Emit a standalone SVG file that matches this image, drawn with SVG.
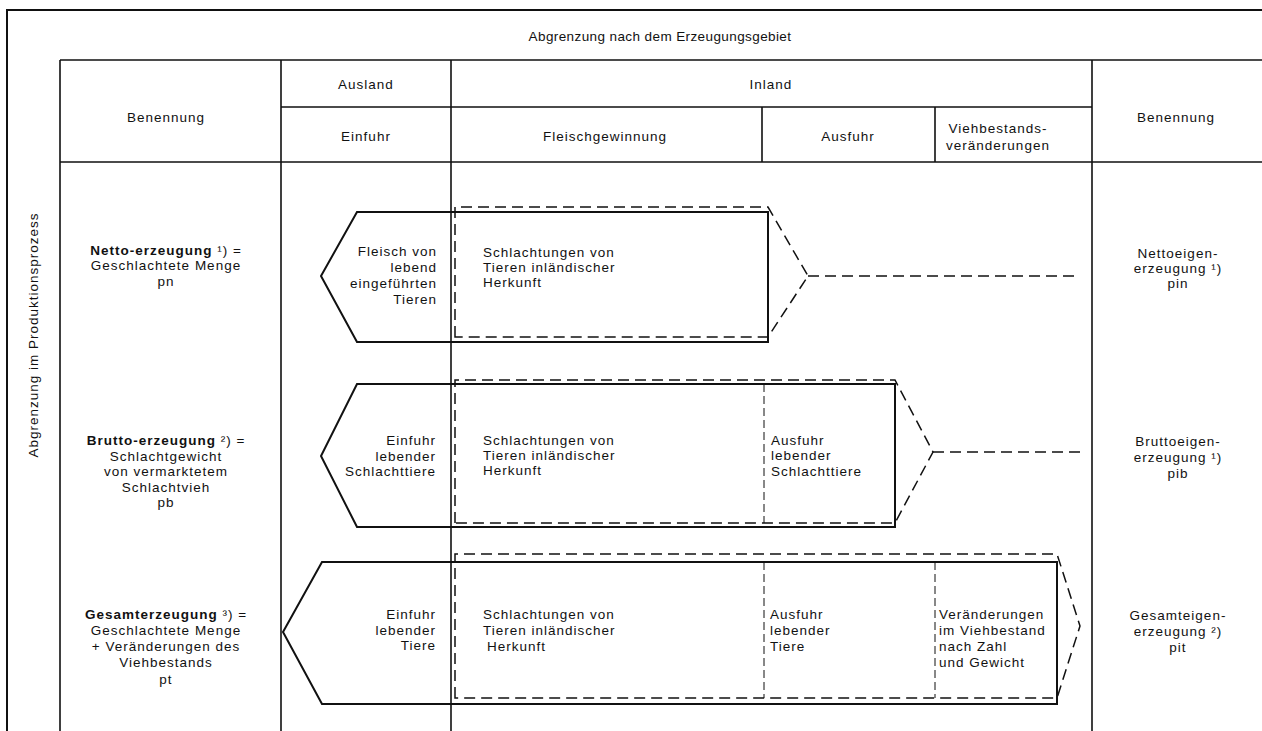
<svg xmlns="http://www.w3.org/2000/svg" width="1262" height="731" viewBox="0 0 1262 731">
<style>
text{font-family:"Liberation Sans","DejaVu Sans",sans-serif;font-size:13.5px;letter-spacing:1px;fill:#111}
.c{text-anchor:middle}
.r{text-anchor:end}
.b{font-weight:bold}
.frame{stroke:#111;stroke-width:2;fill:none}
.grid{stroke:#111;stroke-width:1.6;fill:none}
.solid{stroke:#111;stroke-width:2;fill:none;stroke-linejoin:miter}
.dash{stroke:#111;stroke-width:1.5;fill:none;stroke-dasharray:11 6}
.div{stroke:#111;stroke-width:1;fill:none;stroke-dasharray:8 4}
</style>
<rect width="1262" height="731" fill="#fff"/>
<g id="frame">
<path class="frame" d="M7,731 V10 H1262"/>
<text class="c" x="660" y="41" style="letter-spacing:0.4px">Abgrenzung nach dem Erzeugungsgebiet</text>
<text class="c" transform="translate(38,335) rotate(-90)">Abgrenzung im Produktionsprozess</text>
</g>
<g id="table">
<path class="grid" d="M60,60 H1262 M281,107 H1092 M60,162 H1262 M60,60 V731 M281,60 V731 M451,60 V731 M1092,60 V731 M762,107 V162 M935,107 V162"/>
<text class="c" x="166" y="122">Benennung</text>
<text class="c" x="366" y="89">Ausland</text>
<text class="c" x="771" y="89">Inland</text>
<text class="c" x="366" y="141">Einfuhr</text>
<text class="c" x="605" y="141">Fleischgewinnung</text>
<text class="c" x="848" y="141">Ausfuhr</text>
<text class="c" x="998" y="133">Viehbestands-</text>
<text class="c" x="998" y="150">veränderungen</text>
<text class="c" x="1176" y="122">Benennung</text>
</g>
<g id="row-netto">
<text class="c" x="166" y="255"><tspan class="b">Netto-erzeugung</tspan> ¹) =</text>
<text class="c" x="166" y="270">Geschlachtete Menge</text>
<text class="c" x="166" y="286">pn</text>
<path class="solid" d="M768,212 H357 L321,276 L357,342 H768 Z"/>
<path class="dash" d="M455,337 V207 H768 L808,276 L768,337 Z"/>
<text class="r" x="437" y="256">Fleisch von</text>
<text class="r" x="437" y="272">lebend</text>
<text class="r" x="437" y="288">eingeführten</text>
<text class="r" x="437" y="304">Tieren</text>
<text x="483" y="257">Schlachtungen von</text>
<text x="483" y="272">Tieren inländischer</text>
<text x="483" y="287">Herkunft</text>
<text class="c" x="1178" y="258">Nettoeigen-</text>
<text class="c" x="1178" y="273">erzeugung ¹)</text>
<text class="c" x="1178" y="288">pin</text>
</g>
<g id="row-brutto">
<text class="c" x="166" y="445"><tspan class="b">Brutto-erzeugung</tspan> ²) =</text>
<text class="c" x="166" y="461">Schlachtgewicht</text>
<text class="c" x="166" y="476">von vermarktetem</text>
<text class="c" x="166" y="492">Schlachtvieh</text>
<text class="c" x="166" y="507">pb</text>
<path class="solid" d="M895,384 H357 L321,456 L357,527 H895 Z"/>
<path class="dash" d="M455,523 V380 H895 L933,452 L895,523 Z"/>
<path class="div" d="M764,384 V523"/>
<text class="r" x="436" y="445">Einfuhr</text>
<text class="r" x="436" y="461">lebender</text>
<text class="r" x="436" y="476">Schlachttiere</text>
<text x="483" y="445">Schlachtungen von</text>
<text x="483" y="460">Tieren inländischer</text>
<text x="483" y="475">Herkunft</text>
<text x="771" y="445">Ausfuhr</text>
<text x="771" y="460">lebender</text>
<text x="771" y="476">Schlachttiere</text>
<text class="c" x="1178" y="446">Bruttoeigen-</text>
<text class="c" x="1178" y="462">erzeugung ¹)</text>
<text class="c" x="1178" y="478">pib</text>
</g>
<g id="row-gesamt">
<text class="c" x="166" y="619"><tspan class="b">Gesamterzeugung</tspan> ³) =</text>
<text class="c" x="166" y="635">Geschlachtete Menge</text>
<text class="c" x="166" y="651">+ Veränderungen des</text>
<text class="c" x="166" y="667">Viehbestands</text>
<text class="c" x="166" y="684">pt</text>
<path class="solid" d="M1057,562 H322 L283,632 L322,704 H1057 Z"/>
<path class="dash" d="M455,698 V554 H1057 L1080,626 L1057,698 Z"/>
<path class="div" d="M764,562 V698 M935,562 V698"/>
<text class="r" x="436" y="619">Einfuhr</text>
<text class="r" x="436" y="635">lebender</text>
<text class="r" x="436" y="650">Tiere</text>
<text x="483" y="619">Schlachtungen von</text>
<text x="483" y="635">Tieren inländischer</text>
<text x="487" y="651">Herkunft</text>
<text x="770" y="619">Ausfuhr</text>
<text x="770" y="635">lebender</text>
<text x="770" y="651">Tiere</text>
<text x="939" y="619">Veränderungen</text>
<text x="939" y="635">im Viehbestand</text>
<text x="939" y="651">nach Zahl</text>
<text x="939" y="667">und Gewicht</text>
<text class="c" x="1178" y="620">Gesamteigen-</text>
<text class="c" x="1178" y="636">erzeugung ²)</text>
<text class="c" x="1178" y="652">pit</text>
</g>
<g id="connectors">
<path class="dash" d="M808,276 H1078"/>
<path class="dash" d="M933,452 H1085"/>
</g>
</svg>
